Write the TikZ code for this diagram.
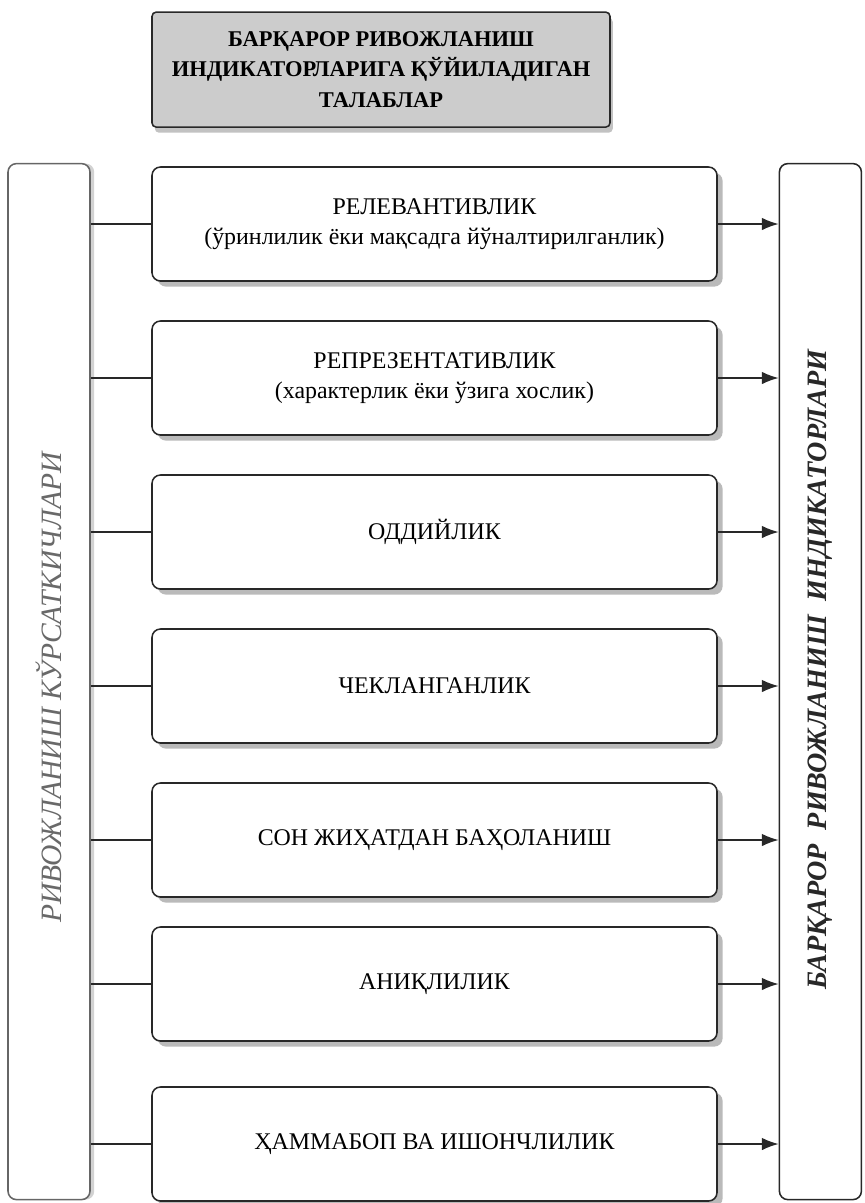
\documentclass[tikz,border=0pt]{standalone}
\usepackage{fontspec}
\setmainfont{Liberation Serif}
\usetikzlibrary{positioning, shadows, arrows.meta}
\definecolor{titlegray}{RGB}{204, 204, 204}
\definecolor{inkgray}{RGB}{40, 40, 40}
\definecolor{sidegray}{RGB}{105, 105, 105}
\tikzset{
  reqbox/.style={draw=inkgray, line width=1.1pt, fill=white, rounded corners=6pt,
    minimum width=14.125cm, minimum height=2.85cm, align=center, font=\fontsize{17}{21}\selectfont,
    drop shadow={shadow xshift=4pt, shadow yshift=-4pt, fill=black!45, opacity=0.6}},
  titlebox/.style={draw=inkgray, line width=1.1pt, fill=titlegray, rounded corners=3pt,
    minimum width=11.45cm, minimum height=2.875cm, align=center,
    font=\bfseries\fontsize{16}{22}\selectfont,
    drop shadow={shadow xshift=2pt, shadow yshift=-4pt, fill=black!40, opacity=0.6}},
  sidebox/.style={draw=inkgray, line width=1.1pt, fill=white, rounded corners=6pt,
    minimum width=2.05cm, minimum height=25.9cm},
  link/.style={inkgray, line width=1.1pt},
  arrow/.style={inkgray, line width=1.1pt, -{Latex[length=12pt, width=9pt]}}
}

\begin{document}
\begin{tikzpicture}
\useasboundingbox (0,0) rectangle (21.625,-30.075);

% Title
\node[titlebox] (title) at (9.525,-1.74) {БАРҚАРОР РИВОЖЛАНИШ\\ИНДИКАТОРЛАРИГА ҚЎЙИЛАДИГАН\\ТАЛАБЛАР};

% Side columns
\node[sidebox, draw=black!60, drop shadow={shadow xshift=3pt, shadow yshift=0pt, fill=black!35, opacity=0.5}] (left) at (1.225,-17.04) {};
\node[rotate=90, font=\itshape\fontsize{21}{23}\selectfont, text=sidegray] (lefttext) at ([yshift=-0.15cm]left.center) {РИВОЖЛАНИШ КЎРСАТКИЧЛАРИ};
\node[sidebox] (right) at (20.51,-17.04) {};
\node[rotate=90, font=\bfseries\itshape\fontsize{20}{22}\selectfont, text=inkgray] (righttext) at ([yshift=0.3cm]right.center) {БАРҚАРОР\ \ РИВОЖЛАНИШ\ \ ИНДИКАТОРЛАРИ};

% Requirement boxes
\foreach \i/\y/\txt in {1/-5.6/{РЕЛЕВАНТИВЛИК\\(ўринлилик ёки мақсадга йўналтирилганлик)},
                        2/-9.45/{РЕПРЕЗЕНТАТИВЛИК\\(характерлик ёки ўзига хослик)},
                        3/-13.3/{ОДДИЙЛИК},
                        4/-17.15/{ЧЕКЛАНГАНЛИК},
                        5/-21.0/{СОН ЖИҲАТДАН БАҲОЛАНИШ},
                        6/-24.6/{АНИҚЛИЛИК},
                        7/-28.6/{ҲАММАБОП ВА ИШОНЧЛИЛИК}} {
    \node[reqbox] (req\i) at (10.8625,\y) {\txt};
    \draw[link] (left.east |- req\i.west) -- (req\i.west);
    \draw[arrow] (req\i.east) -- (right.west |- req\i.east);
}
\end{tikzpicture}
\end{document}
